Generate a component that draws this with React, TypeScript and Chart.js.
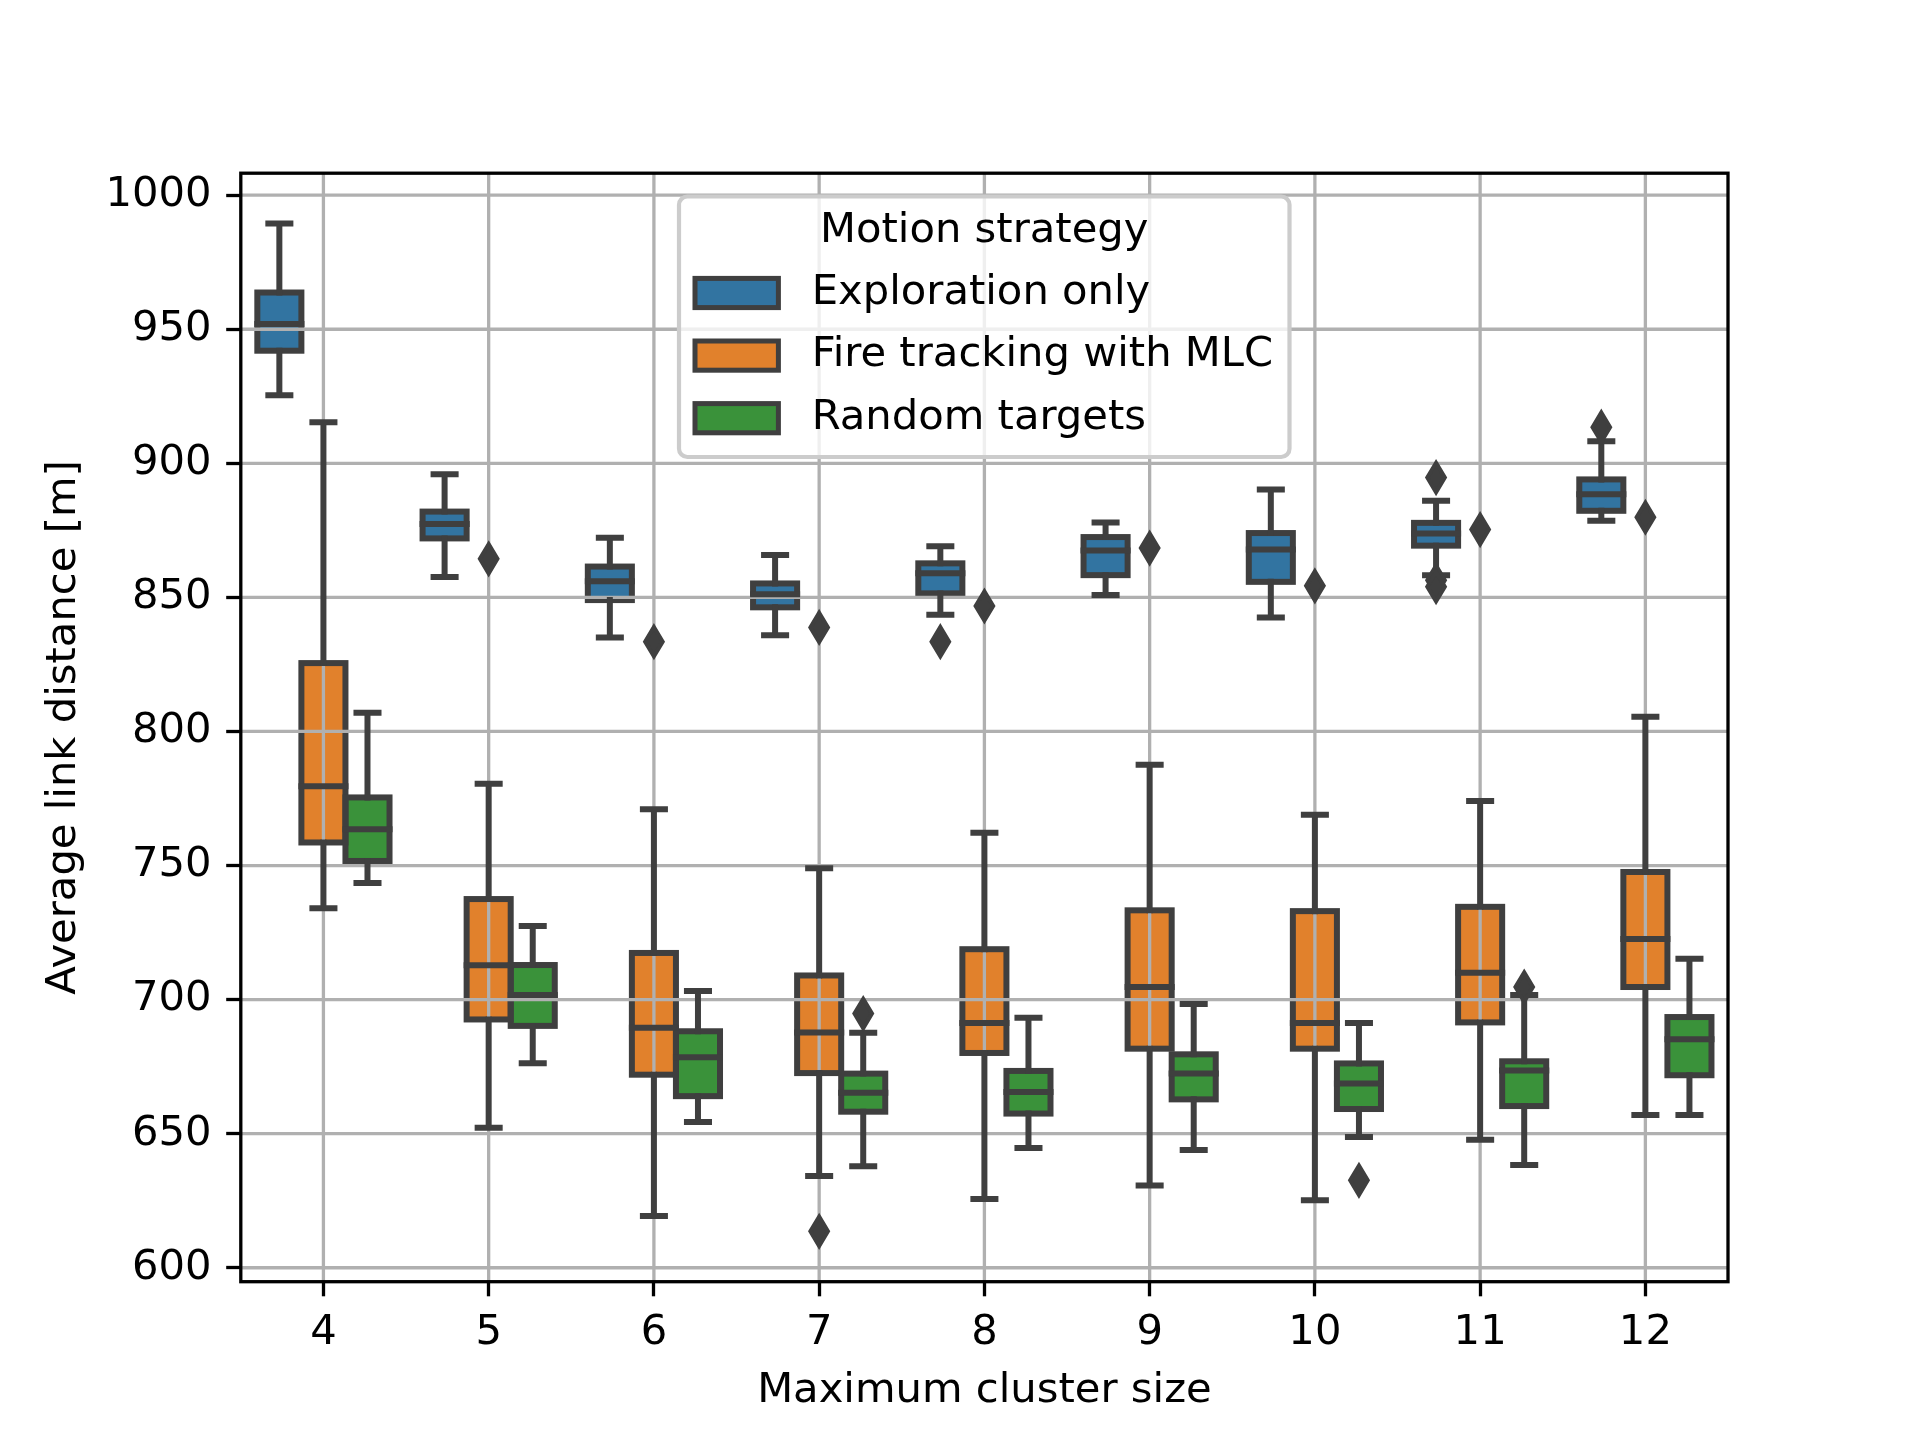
import React, { useEffect, useRef } from 'react';
import { Chart, registerables } from 'chart.js';

Chart.register(...registerables);

const categories = ['4', '5', '6', '7', '8', '9', '10', '11', '12'];
const seriesNames = ['Exploration only', 'Fire tracking with MLC', 'Random targets'];
const seriesColors = ['#3274a1', '#e1812c', '#3a923a'];

// [lower whisker, q1, median, q3, upper whisker] per cluster size
const explorationStats = [
  [925.4, 942, 952, 963.7, 989.4],
  [857.6, 872, 877.4, 882, 895.9],
  [835, 849, 856, 861.5, 872.2],
  [835.9, 846.3, 851.2, 855.2, 865.8],
  [843.5, 851.5, 859, 862.7, 869.1],
  [850.9, 858.3, 867.5, 872.5, 877.9],
  [842.5, 855.8, 867.9, 874, 890.2],
  [858.3, 869.3, 873.8, 877.8, 886],
  [878.6, 882.3, 888.5, 894, 908.2],
];
const fireStats = [
  [734.1, 758.6, 779.6, 825.5, 915.3],
  [652.2, 692.6, 712.8, 737.5, 780.5],
  [619.3, 672, 689.5, 717.4, 771],
  [634.2, 672.6, 687.7, 709, 749],
  [625.6, 680.1, 691.3, 718.8, 762.2],
  [630.7, 681.7, 704.7, 733.3, 787.6],
  [625.2, 681.7, 691.3, 733, 768.9],
  [647.7, 691.5, 710, 734.6, 774.1],
  [657, 704.7, 722.6, 747.6, 805.5],
];
const randomStats = [
  [743.5, 751.7, 763.5, 775.4, 807],
  [676.3, 690.2, 701.7, 712.9, 727.5],
  [654.4, 664, 678.5, 688.2, 703.2],
  [637.9, 658.2, 665.3, 672.4, 687.6],
  [644.7, 657.5, 665.5, 673.4, 693.2],
  [643.9, 662.8, 672.4, 679.6, 698.4],
  [648.8, 659.2, 668.7, 676.2, 691.3],
  [638.3, 660.3, 673.6, 677, 701.7],
  [657, 671.8, 685.2, 693.5, 715.2],
];

const explorationOutliers = [[], [], [], [], [833.5], [], [], [894.7, 856.4, 854], [913.5]];
const fireOutliers = [[], [864.4], [833.5], [838.8, 613.6], [846.8], [868.4], [854.3], [875.3], [879.9]];
const randomOutliers = [[], [], [], [694.8], [], [], [632.6], [704.7], []];

const yTicks = [600, 650, 700, 750, 800, 850, 900, 950, 1000];
const yMin = 594.8;
const yMax = 1008.2;

const allStats = [explorationStats, fireStats, randomStats];
const allOutliers = [explorationOutliers, fireOutliers, randomOutliers];

const FONT = "'DejaVu Sans', sans-serif";
const FS = 41.7;
const LINE = '#3f3f3f';
const LW = 6;

const boxPlugin = {
  id: 'boxDetails',
  afterDatasetsDraw(chart: any) {
    const { ctx, chartArea: a, scales } = chart;
    const x = scales.x;
    const y = scales.y;
    ctx.save();

    // box outlines (patch edges)
    ctx.strokeStyle = LINE;
    ctx.lineWidth = LW;
    ctx.lineJoin = 'miter';
    chart.data.datasets.forEach((_: any, di: number) => {
      const meta = chart.getDatasetMeta(di);
      meta.data.forEach((bar: any, i: number) => {
        const { x: cx, width } = bar.getProps(['x', 'width'], true);
        const s = allStats[di][i];
        const top = y.getPixelForValue(s[3]);
        const bottom = y.getPixelForValue(s[1]);
        ctx.strokeRect(cx - width / 2, top, width, bottom - top);
      });
    });

    // grid over the boxes, under the lines
    ctx.strokeStyle = '#b0b0b0';
    ctx.lineWidth = 3.3;
    ctx.lineCap = 'butt';
    categories.forEach((_, i) => {
      const px = x.getPixelForValue(i);
      ctx.beginPath();
      ctx.moveTo(px, a.top);
      ctx.lineTo(px, a.bottom);
      ctx.stroke();
    });
    yTicks.forEach((v) => {
      const py = y.getPixelForValue(v);
      ctx.beginPath();
      ctx.moveTo(a.left, py);
      ctx.lineTo(a.right, py);
      ctx.stroke();
    });

    // whiskers, caps, medians, fliers
    chart.data.datasets.forEach((_: any, di: number) => {
      const meta = chart.getDatasetMeta(di);
      meta.data.forEach((bar: any, i: number) => {
        const { x: cx, width } = bar.getProps(['x', 'width'], true);
        const s = allStats[di][i];
        const [lo, q1, med, q3, hi] = s.map((v: number) => y.getPixelForValue(v));
        ctx.strokeStyle = LINE;
        ctx.lineWidth = LW;
        ctx.lineCap = 'square';
        ctx.beginPath();
        ctx.moveTo(cx, q1);
        ctx.lineTo(cx, lo);
        ctx.moveTo(cx, q3);
        ctx.lineTo(cx, hi);
        const cw = width / 4;
        ctx.moveTo(cx - cw, lo);
        ctx.lineTo(cx + cw, lo);
        ctx.moveTo(cx - cw, hi);
        ctx.lineTo(cx + cw, hi);
        ctx.stroke();
        ctx.lineCap = 'butt';
        ctx.beginPath();
        ctx.moveTo(cx - width / 2 - LW / 2, med);
        ctx.lineTo(cx + width / 2 + LW / 2, med);
        ctx.stroke();

        ctx.fillStyle = LINE;
        ctx.lineWidth = 4;
        ctx.lineJoin = 'miter';
        allOutliers[di][i].forEach((v: number) => {
          const py = y.getPixelForValue(v);
          ctx.beginPath();
          ctx.moveTo(cx, py - 14.7);
          ctx.lineTo(cx + 8.8, py);
          ctx.lineTo(cx, py + 14.7);
          ctx.lineTo(cx - 8.8, py);
          ctx.closePath();
          ctx.fill();
          ctx.stroke();
        });
      });
    });
    ctx.restore();
  },
  afterDraw(chart: any) {
    const { ctx, chartArea: a } = chart;
    ctx.save();
    // spines
    ctx.strokeStyle = '#000';
    ctx.lineWidth = 3.3;
    ctx.lineJoin = 'miter';
    ctx.strokeRect(a.left, a.top, a.right - a.left, a.bottom - a.top);

    // legend
    const lx = 679, ly = 196.5, lw = 610.5, lh = 260.5;
    ctx.beginPath();
    ctx.roundRect(lx, ly, lw, lh, 8.3);
    ctx.fillStyle = 'rgba(255,255,255,0.8)';
    ctx.fill();
    ctx.strokeStyle = '#cccccc';
    ctx.lineWidth = 4.2;
    ctx.stroke();

    ctx.font = `${FS}px ${FONT}`;
    ctx.fillStyle = '#000';
    ctx.textBaseline = 'middle';
    ctx.textAlign = 'center';
    ctx.fillText('Motion strategy', lx + lw / 2, 231);
    ctx.textAlign = 'left';
    const rows = [293, 355.6, 418.2];
    const hx = lx + 16;
    seriesNames.forEach((name, i) => {
      const ry = rows[i];
      ctx.fillStyle = seriesColors[i];
      ctx.fillRect(hx, ry - 14.6, 83.4, 29.2);
      ctx.strokeStyle = LINE;
      ctx.lineWidth = 5;
      ctx.strokeRect(hx, ry - 14.6, 83.4, 29.2);
      ctx.fillStyle = '#000';
      ctx.fillText(name, hx + 116.7, ry);
    });
    ctx.restore();
  },
};

const BoxChart: React.FC = () => {
  const canvasRef = useRef<HTMLCanvasElement>(null);
  const chartRef = useRef<Chart | null>(null);

  useEffect(() => {
    document.body.style.margin = '0';
    if (!canvasRef.current) return;
    if (chartRef.current) chartRef.current.destroy();

    const tickFont = { family: FONT, size: FS };

    chartRef.current = new Chart(canvasRef.current, {
      type: 'bar',
      data: {
        labels: categories,
        datasets: allStats.map((stats, di) => ({
          label: seriesNames[di],
          data: stats.map((s) => [s[1], s[3]]),
          backgroundColor: seriesColors[di],
          borderWidth: 0,
          categoryPercentage: 0.8,
          barPercentage: 1.0,
        })),
      } as any,
      options: {
        animation: false,
        responsive: true,
        maintainAspectRatio: false,
        devicePixelRatio: 1,
        layout: { padding: { top: 173.2, right: 192, left: 0, bottom: 0 } },
        plugins: {
          legend: { display: false },
          tooltip: { enabled: false },
        },
        scales: {
          x: {
            type: 'category',
            offset: true,
            grid: {
              offset: false,
              drawOnChartArea: false,
              drawTicks: true,
              tickLength: 14.6,
              tickWidth: 3.3,
              tickColor: '#000',
            },
            border: { display: false },
            ticks: { font: tickFont, color: '#000', padding: 12, maxRotation: 0, autoSkip: false },
            title: {
              display: true,
              text: 'Maximum cluster size',
              font: tickFont,
              color: '#000',
              padding: { top: 0, bottom: 24 },
            },
            afterFit: (s: any) => { s.height = 158.3; },
          },
          y: {
            type: 'linear',
            min: yMin,
            max: yMax,
            afterBuildTicks: (s: any) => { s.ticks = yTicks.map((v) => ({ value: v })); },
            grid: {
              drawOnChartArea: false,
              drawTicks: true,
              tickLength: 14.6,
              tickWidth: 3.3,
              tickColor: '#000',
            },
            border: { display: false },
            ticks: {
              font: tickFont,
              color: '#000',
              padding: 14.6,
              callback: (v: any) => String(v),
            },
            title: {
              display: true,
              text: 'Average link distance [m]',
              font: tickFont,
              color: '#000',
              padding: { top: 39, bottom: 0 },
            },
            afterFit: (s: any) => { s.width = 240.8; },
          },
        },
      } as any,
      plugins: [boxPlugin],
    });

    return () => {
      if (chartRef.current) {
        chartRef.current.destroy();
        chartRef.current = null;
      }
    };
  }, []);

  return (
    <div style={{ width: 1920, height: 1440, position: 'relative', background: '#fff' }}>
      <canvas ref={canvasRef}></canvas>
    </div>
  );
};

export default function App() {
  return <BoxChart />;
}
